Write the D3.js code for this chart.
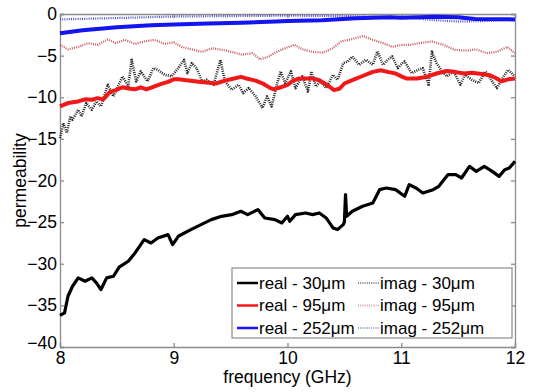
<!DOCTYPE html>
<html>
<head>
<meta charset="utf-8">
<script src="https://cdn.jsdelivr.net/npm/d3@7"></script>
<style>
  body { margin: 0; background: #fff; }
  text { font-family: "Liberation Sans", Arial, sans-serif; fill: #000; }
</style>
</head>
<body>
<svg id="chart" width="533" height="392"></svg>
<script>
// tick labels
const xTicks = [8, 9, 10, 11, 12];
const yTicks = [0, -5, -10, -15, -20, -25, -30, -35, -40];

// real - 30um
const fReal30 = [8.00, 8.04, 8.07, 8.11, 8.16, 8.22, 8.28, 8.32, 8.36, 8.41, 8.47, 8.52, 8.60, 8.66, 8.74, 8.80, 8.86, 8.95, 8.99, 9.04, 9.15, 9.24, 9.33, 9.42, 9.51, 9.59, 9.65, 9.74, 9.80, 9.89, 9.95, 10.00, 10.02, 10.07, 10.16, 10.22, 10.28, 10.34, 10.40, 10.44, 10.49, 10.50, 10.51, 10.52, 10.57, 10.66, 10.75, 10.81, 10.87, 10.95, 11.03, 11.07, 11.13, 11.19, 11.28, 11.33, 11.41, 11.48, 11.53, 11.60, 11.66, 11.73, 11.80, 11.86, 11.91, 11.95, 12.00];
const real30 = [-36.2, -35.9, -33.9, -32.7, -31.7, -32.1, -31.7, -32.3, -33.1, -31.7, -31.5, -30.4, -29.7, -28.7, -27.1, -27.5, -26.9, -26.5, -27.7, -26.7, -25.9, -25.3, -24.7, -24.3, -24.1, -23.7, -24.1, -23.5, -24.5, -24.7, -25.1, -24.3, -24.9, -24.1, -23.9, -24.1, -23.9, -24.5, -25.7, -25.9, -25.3, -25.0, -21.7, -24.3, -23.7, -23.1, -22.7, -21.1, -20.9, -21.1, -21.9, -20.5, -20.9, -21.5, -21.1, -20.7, -19.3, -19.3, -19.7, -18.3, -18.9, -18.3, -18.9, -19.5, -18.7, -18.5, -17.7];

// real - 95um
const fReal95 = [8.00, 8.07, 8.16, 8.22, 8.28, 8.33, 8.38, 8.44, 8.49, 8.55, 8.60, 8.66, 8.71, 8.76, 8.82, 8.89, 8.95, 9.00, 9.04, 9.13, 9.22, 9.31, 9.37, 9.45, 9.53, 9.59, 9.64, 9.72, 9.79, 9.85, 9.88, 9.94, 10.00, 10.05, 10.10, 10.16, 10.22, 10.28, 10.35, 10.41, 10.46, 10.50, 10.57, 10.66, 10.75, 10.82, 10.88, 10.95, 11.01, 11.05, 11.14, 11.22, 11.31, 11.40, 11.47, 11.55, 11.62, 11.71, 11.78, 11.84, 11.88, 11.94, 12.00];
const real95 = [-11.1, -10.7, -10.5, -10.25, -10.3, -10.1, -10.25, -9.35, -9.15, -8.8, -8.95, -9.05, -8.8, -9.05, -8.75, -8.4, -8.15, -7.85, -7.85, -8.0, -8.15, -8.25, -8.35, -8.0, -7.75, -7.55, -7.75, -8.0, -8.4, -8.9, -9.05, -8.8, -8.5, -8.0, -7.75, -7.75, -7.75, -7.95, -8.55, -9.15, -8.95, -8.35, -7.95, -7.45, -6.95, -6.75, -6.95, -7.15, -7.55, -7.75, -7.75, -7.55, -7.15, -6.85, -6.95, -7.15, -7.05, -7.2, -7.35, -7.75, -8.1, -7.85, -7.75];

// real - 252um
const fReal252 = [8.00, 8.20, 8.50, 8.80, 9.00, 9.30, 9.60, 9.90, 10.00, 10.30, 10.60, 10.90, 11.00, 11.30, 11.50, 11.65, 12.00];
const real252 = [-2.3, -1.95, -1.6, -1.35, -1.25, -1.15, -1.05, -0.9, -0.85, -0.75, -0.5, -0.4, -0.45, -0.32, -0.4, -0.6, -0.65];

// imag - 30um
const fImag30 = [8.00, 8.03, 8.06, 8.09, 8.11, 8.16, 8.19, 8.23, 8.28, 8.32, 8.36, 8.42, 8.47, 8.51, 8.55, 8.60, 8.63, 8.67, 8.71, 8.77, 8.82, 8.86, 8.92, 8.98, 9.04, 9.09, 9.12, 9.16, 9.20, 9.25, 9.29, 9.35, 9.41, 9.45, 9.51, 9.57, 9.61, 9.66, 9.72, 9.78, 9.82, 9.86, 9.91, 9.94, 9.98, 10.03, 10.07, 10.13, 10.18, 10.21, 10.25, 10.29, 10.34, 10.40, 10.44, 10.49, 10.53, 10.57, 10.63, 10.69, 10.75, 10.79, 10.84, 10.88, 10.92, 10.97, 11.01, 11.03, 11.09, 11.15, 11.19, 11.24, 11.27, 11.31, 11.36, 11.40, 11.46, 11.52, 11.56, 11.62, 11.68, 11.74, 11.80, 11.84, 11.90, 11.94, 12.00];
const imag30 = [-14.9, -13.1, -14.3, -12.3, -12.7, -11.5, -12.3, -10.7, -11.5, -10.5, -11.1, -8.5, -9.9, -8.7, -7.5, -8.7, -5.5, -8.1, -6.9, -8.1, -6.5, -6.7, -7.3, -7.5, -6.5, -5.5, -7.1, -5.9, -6.5, -8.1, -7.9, -8.5, -5.5, -8.1, -9.1, -8.5, -9.5, -8.9, -9.9, -11.3, -9.9, -11.1, -8.3, -6.9, -8.3, -6.9, -8.9, -7.5, -9.3, -6.9, -8.7, -8.1, -8.9, -7.3, -7.9, -5.9, -5.7, -5.1, -6.1, -5.5, -6.1, -4.5, -6.1, -5.5, -5.1, -6.5, -5.9, -5.7, -7.1, -6.7, -6.5, -8.5, -4.5, -5.9, -6.9, -7.5, -6.9, -8.5, -7.3, -7.9, -8.3, -6.9, -8.1, -8.9, -7.5, -6.7, -7.5];

// imag - 95um
const fImag95 = [8.00, 8.07, 8.16, 8.25, 8.33, 8.42, 8.49, 8.57, 8.66, 8.74, 8.83, 8.92, 9.00, 9.07, 9.16, 9.25, 9.34, 9.42, 9.51, 9.60, 9.69, 9.76, 9.83, 9.89, 9.98, 10.06, 10.13, 10.22, 10.31, 10.40, 10.47, 10.56, 10.66, 10.75, 10.84, 10.92, 11.01, 11.08, 11.16, 11.27, 11.37, 11.47, 11.58, 11.66, 11.75, 11.84, 11.93, 12.00];
const imag95 = [-3.7, -4.25, -3.95, -3.5, -3.7, -3.05, -3.5, -3.1, -3.6, -3.3, -3.1, -3.6, -3.4, -3.95, -4.25, -4.55, -4.1, -4.3, -4.55, -4.9, -4.7, -5.45, -5.15, -4.65, -4.1, -3.7, -4.25, -4.55, -4.65, -4.1, -3.3, -3.05, -2.65, -3.1, -3.5, -3.95, -3.7, -3.7, -3.5, -3.3, -3.7, -4.3, -4.4, -4.25, -4.7, -4.55, -3.95, -4.7];

// imag - 252um
const fImag252 = [8.00, 8.30, 8.60, 9.00, 9.50, 10.00, 10.50, 10.90, 11.10, 11.30, 11.50, 11.70, 12.00];
const imag252 = [-0.65, -0.55, -0.45, -0.3, -0.25, -0.2, -0.25, -0.35, -0.5, -0.75, -0.9, -0.85, -0.7];

const seriesNames = ['real - 30\u03bcm', 'real - 95\u03bcm', 'real - 252\u03bcm', 'imag - 30\u03bcm', 'imag - 95\u03bcm', 'imag - 252\u03bcm'];

const margin = {left: 60, right: 18, top: 14, bottom: 45};
const width = 533, height = 392;

const svg = d3.select('#chart');
svg.append('rect').attr('width', width).attr('height', height).attr('fill', '#fff');

const xScale = d3.scaleLinear().domain([8, 12]).range([margin.left, width - margin.right]);
const yScale = d3.scaleLinear().domain([-40, 0]).range([height - margin.bottom, margin.top]);

//坐标轴 (ticks inside, on all four sides)
const axisColor = '#8c8c8c';
const xb = svg.append('g').attr('transform', `translate(0,${yScale(-40)})`)
  .call(d3.axisBottom(xScale).tickValues(xTicks).tickSize(-4).tickPadding(5).tickFormat(d3.format('d')));
const xt = svg.append('g').attr('transform', `translate(0,${yScale(0)})`)
  .call(d3.axisTop(xScale).tickValues(xTicks).tickSize(-4).tickFormat(''));
const yl = svg.append('g').attr('transform', `translate(${xScale(8)},0)`)
  .call(d3.axisLeft(yScale).tickValues(yTicks).tickSize(-4).tickPadding(3).tickFormat(d3.format('d')));
const yr = svg.append('g').attr('transform', `translate(${xScale(12)},0)`)
  .call(d3.axisRight(yScale).tickValues(yTicks).tickSize(-4).tickFormat(''));
[xb, xt, yl, yr].forEach(g => {
  g.selectAll('path, line').attr('stroke', axisColor).attr('stroke-width', 1.3);
  g.selectAll('text').style('font-size', '17.5px').style('font-family', '"Liberation Sans", Arial, sans-serif').attr('fill', '#000');
});
// "-40" sits a bit higher, like the reference
yl.selectAll('.tick text').filter(d => d === -40).attr('dy', '0.1em');

const line = d3.line().x(d => xScale(d[0])).y(d => yScale(d[1]));
const zip = (f, v) => f.map((x, i) => [x, v[i]]);

const styles = [
  {stroke: '#000', width: 3.2, dash: null},
  {stroke: '#f01818', width: 4, dash: null},
  {stroke: '#1414f0', width: 4, dash: null},
  {stroke: '#222', width: 2.6, dash: '1,1.2'},
  {stroke: '#c85a5a', width: 2.2, dash: '1,1.2'},
  {stroke: '#5050c8', width: 2.2, dash: '1,1.2'}
];
const data = [zip(fReal30, real30), zip(fReal95, real95), zip(fReal252, real252),
              zip(fImag30, imag30), zip(fImag95, imag95), zip(fImag252, imag252)];

const plot = svg.append('g');
// draw imag first so that solid lines overlap them like in the figure
[5, 4, 3, 2, 1, 0].forEach(i => {
  plot.append('path')
    .datum(data[i])
    .attr('d', line)
    .attr('fill', 'none')
    .attr('stroke', styles[i].stroke)
    .attr('stroke-width', styles[i].width)
    .attr('stroke-dasharray', styles[i].dash)
    .attr('stroke-linejoin', 'round');
});

// legend
const lg = svg.append('g');
lg.append('rect').attr('x', 232).attr('y', 268).attr('width', 280).attr('height', 70)
  .attr('fill', '#fff').attr('stroke', axisColor).attr('stroke-width', 1.2);
seriesNames.forEach((name, i) => {
  const col = Math.floor(i / 3), row = i % 3;
  const x0 = 237 + col * 121, y0 = 283 + row * 22.5;
  lg.append('line').attr('x1', x0).attr('x2', x0 + 21).attr('y1', y0).attr('y2', y0)
    .attr('stroke', styles[i].stroke)
    .attr('stroke-width', col === 0 ? 2.5 : 1.8)
    .attr('stroke-dasharray', styles[i].dash)
    .attr('opacity', col === 0 ? 1 : 0.55);
  lg.append('text').attr('x', x0 + 22).attr('y', y0).attr('dy', '0.35em')
    .style('font-size', '17px').text(name);
});

// axis titles
svg.append('text').attr('x', xScale(10)).attr('y', 383).attr('text-anchor', 'middle')
  .style('font-size', '17.5px').text('frequency (GHz)');
svg.append('text').attr('transform', `translate(26,${yScale(-20)}) rotate(-90)`)
  .attr('text-anchor', 'middle').style('font-size', '17.5px').text('permeability');
</script>
</body>
</html>
